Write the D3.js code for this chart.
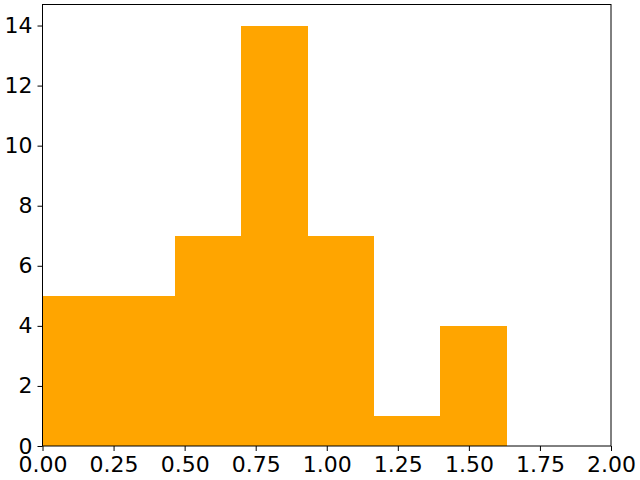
<!DOCTYPE html>
<html>
<head>
<meta charset="utf-8">
<script src="https://cdn.jsdelivr.net/npm/d3@7"></script>
<style>
html,body{margin:0;padding:0;background:#fff;}
svg{display:block;}
</style>
</head>
<body>
<script>
const binEdges = [0, 0.2333, 0.4667, 0.7, 0.9333, 1.1667, 1.4, 1.6333];
const counts = [5, 5, 7, 14, 7, 1, 4];
const xTicks = [0, 0.25, 0.5, 0.75, 1.0, 1.25, 1.5, 1.75, 2.0];
const yTicks = [0, 2, 4, 6, 8, 10, 12, 14];

const W = 640, H = 480;
const m = {left: 42.5, right: 611, top: 4.5, bottom: 446};
const svg = d3.select("body").append("svg").attr("width", W).attr("height", H);

const x = d3.scaleLinear().domain([0, 2]).range([m.left, m.right]);
const y = d3.scaleLinear().domain([0, 14.7]).range([m.bottom, m.top]);

const bins = counts.map((c, i) => ({x0: binEdges[i], x1: binEdges[i + 1], c}));
svg.append("g").selectAll("rect").data(bins).enter().append("rect")
  .attr("x", d => x(d.x0))
  .attr("width", d => x(d.x1) - x(d.x0))
  .attr("y", d => y(d.c))
  .attr("height", d => y(0) - y(d.c))
  .attr("fill", "#ffa500")
  .attr("shape-rendering", "crispEdges");

const fmtX = d3.format(".2f");
const xAxis = d3.axisBottom(x).tickValues(xTicks).tickFormat(fmtX).tickSize(5).tickPadding(5);
const yAxis = d3.axisLeft(y).tickValues(yTicks).tickFormat(d3.format("d")).tickSize(5).tickPadding(5);

const gx = svg.append("g").attr("transform", `translate(0,${m.bottom})`).call(xAxis);
const gy = svg.append("g").attr("transform", `translate(${m.left},0)`).call(yAxis);
[gx, gy].forEach(g => {
  g.attr("font-size", null).attr("font-family", null);
  g.select(".domain").remove();
  g.selectAll("line").attr("stroke", "#000").attr("stroke-width", 1);
  g.selectAll("text").style("font-family", "DejaVu Sans").style("font-size", "22px").attr("fill", "#000");
});

svg.append("rect")
  .attr("x", m.left).attr("y", m.top)
  .attr("width", m.right - m.left).attr("height", m.bottom - m.top)
  .attr("fill", "none").attr("stroke", "#000").attr("stroke-width", 1);
</script>
</body>
</html>
